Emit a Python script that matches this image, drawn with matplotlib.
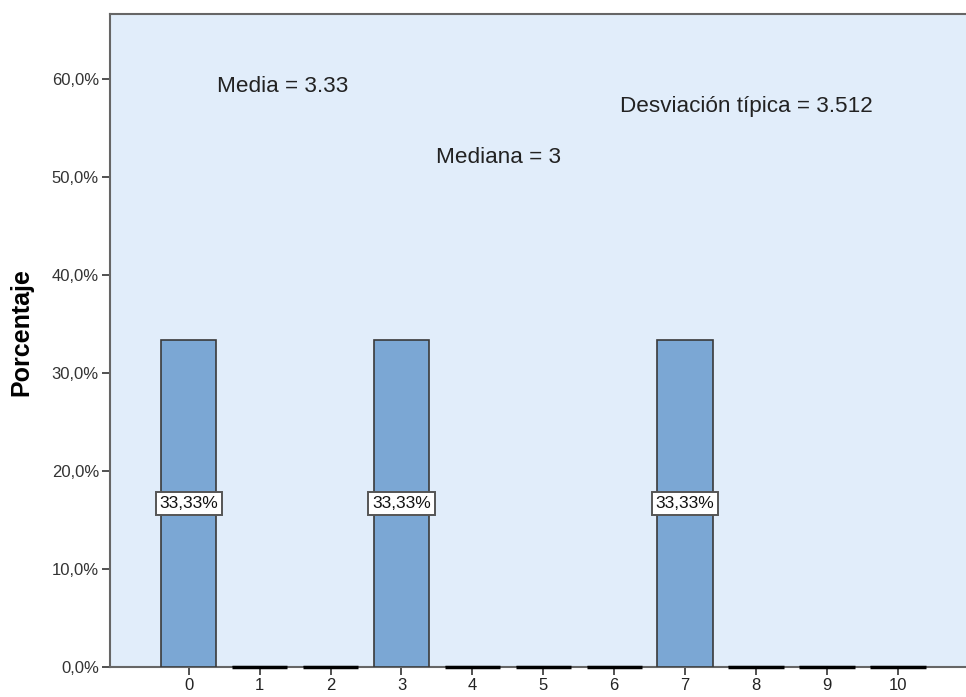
import matplotlib
matplotlib.use("Agg")
from matplotlib import pyplot as plt
from matplotlib.ticker import FuncFormatter

# values
categorias = [0, 1, 2, 3, 4, 5, 6, 7, 8, 9, 10]
porcentajes = [33.33, 0, 0, 33.33, 0, 0, 0, 33.33, 0, 0, 0]
yticks = [0, 10, 20, 30, 40, 50, 60]
stats = [("Media = 3.33", 0.40, 59.2),
         ("Mediana = 3", 3.48, 52.0),
         ("Desviación típica = 3.512", 6.08, 57.2)]

plt.rcParams['font.family'] = ['Liberation Sans', 'DejaVu Sans']

fig = plt.figure(figsize=(9.66, 6.97), dpi=100)
ax = fig.add_axes([110/966, 30/697, 1 - 110/966, (667-14)/697])
ax.set_facecolor("#e1edfa")

#bars with data, zero bars drawn as thick dark segments on the baseline
ax.bar(categorias, porcentajes, width=0.78, color="#7ba7d4",
       edgecolor="#3a3a3a", linewidth=1.2, zorder=3)
for x, v in zip(categorias, porcentajes):
    if v == 0:
        ax.plot([x - 0.39, x + 0.39], [0, 0], color="black", lw=2.5,
                solid_capstyle="butt", zorder=4, clip_on=False)
    else:
        ax.text(x, v/2, f"{v:.2f}%".replace(".", ","), ha="center", va="center",
                fontsize=12.5, zorder=5, color="#111111",
                bbox=dict(boxstyle="square,pad=0.22", fc="white", ec="#555555", lw=1.4))

for txt, x, y in stats:
    ax.text(x, y, txt, ha="left", va="center", fontsize=16.2, color="#222222")

ax.set_xlim(-1.11, 10.96)
ax.set_ylim(0, 66.6)
ax.set_xticks(categorias)
ax.set_yticks(yticks)
ax.yaxis.set_major_formatter(FuncFormatter(lambda v, p: f"{v:.1f}%".replace(".", ",")))
ax.tick_params(axis="both", labelsize=12, colors="#333333", length=6, width=1.2, pad=2)
ax.tick_params(axis="x", labelcolor="#222222")
ax.set_ylabel("Porcentaje", fontsize=18, fontweight="bold")
ax.yaxis.set_label_coords(-77/856, (667-332)/653)

for s in ["left", "bottom", "top"]:
    ax.spines[s].set_color("#666666")
    ax.spines[s].set_linewidth(1.5)
ax.spines["right"].set_visible(False)

fig.savefig("out.png", dpi=100)
